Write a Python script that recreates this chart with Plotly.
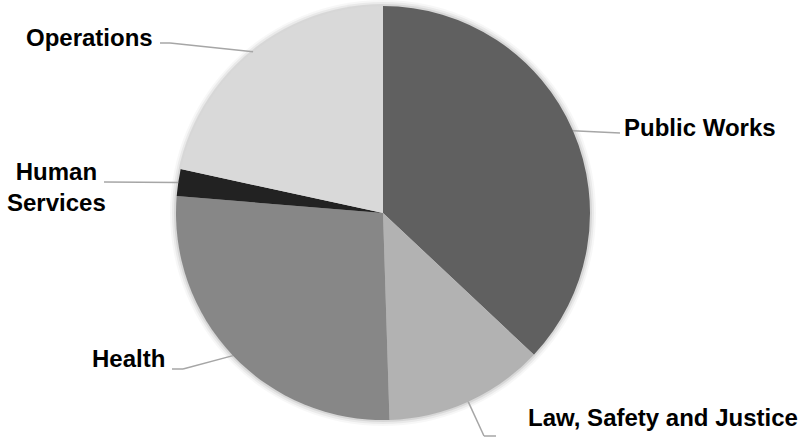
import math
import plotly.graph_objects as go

# Budget share by department (percent), clockwise from 12 o'clock
departments = ["Public Works", "Law, Safety and Justice", "Health", "Human Services", "Operations"]
shares = [37.0, 12.5, 26.8, 2.1, 21.6]
colors = ["#606060", "#b2b2b2", "#878787", "#222222", "#d9d9d9"]

W, H = 800, 437
CX, CY, R = 383, 213, 207  # pie centre and radius in pixels


def px(x, y):
    """Pixel coordinates -> paper coordinates."""
    return x / W, 1 - y / H


fig = go.Figure()
fig.add_trace(go.Pie(
    labels=departments,
    values=shares,
    sort=False,
    direction="clockwise",
    rotation=0,
    marker=dict(colors=colors, line=dict(width=0)),
    textinfo="none",
    hoverinfo="label+percent",
    showlegend=False,
    domain=dict(x=[(CX - R) / W, (CX + R) / W], y=[1 - (CY + R) / H, 1 - (CY - R) / H]),
))

# soft shadow ring behind the pie
shapes = []
for k, op in [(6, 0.03), (4, 0.05), (2, 0.08)]:
    x0, y0 = px(CX - R - k, CY - R - k)
    x1, y1 = px(CX + R + k, CY + R + k)
    shapes.append(dict(type="circle", xref="paper", yref="paper", x0=x0, y0=y1, x1=x1, y1=y0,
                       fillcolor=f"rgba(0,0,0,{op})", line=dict(width=0), layer="below"))

# label placement: text anchor, leader elbow points (pixels)
label_cfg = {
    "Public Works": dict(lines=["Public Works"], tx=622, ty=128, xanchor="left", path=[(620, 133)]),
    "Law, Safety and Justice": dict(lines=["Law, Safety and Justice"], tx=526, ty=417, xanchor="left",
                                    path=[(484, 436), (496, 436)]),
    "Health": dict(lines=["Health"], tx=167, ty=358, xanchor="right", path=[(183, 369), (172, 369)]),
    "Human Services": dict(lines=["Human", "Services"], tx=57, ty=187, xanchor="center", path=[(104, 182)]),
    "Operations": dict(lines=["Operations"], tx=155, ty=37, xanchor="right", path=[(170, 43), (160, 43)]),
}

annotations = []
total = sum(shares)
cum = 0.0
for name, v in zip(departments, shares):
    mid = (cum + v / 2) / total * 2 * math.pi
    cum += v
    ex = CX + R * math.sin(mid)
    ey = CY - R * math.cos(mid)
    cfg = label_cfg[name]
    pts = [(ex, ey)] + cfg["path"]
    for (ax, ay), (bx, by) in zip(pts[:-1], pts[1:]):
        x0, y0 = px(ax, ay)
        x1, y1 = px(bx, by)
        shapes.append(dict(type="line", xref="paper", yref="paper", x0=x0, y0=y0, x1=x1, y1=y1,
                           line=dict(color="#a6a6a6", width=1.5), layer="above"))
    ax_, ay_ = px(cfg["tx"], cfg["ty"])
    annotations.append(dict(
        text="<br>".join(f"<b>{s}</b>" for s in cfg["lines"]),
        x=ax_, y=ay_, xref="paper", yref="paper",
        xanchor=cfg["xanchor"], yanchor="middle", showarrow=False,
        font=dict(family="Liberation Sans, Arial", size=24, color="#000000"),
        align="center",
    ))

fig.update_layout(
    width=W, height=H,
    margin=dict(l=0, r=0, t=0, b=0),
    paper_bgcolor="#ffffff",
    plot_bgcolor="#ffffff",
    shapes=shapes,
    annotations=annotations,
)

fig.write_html("out.html")
